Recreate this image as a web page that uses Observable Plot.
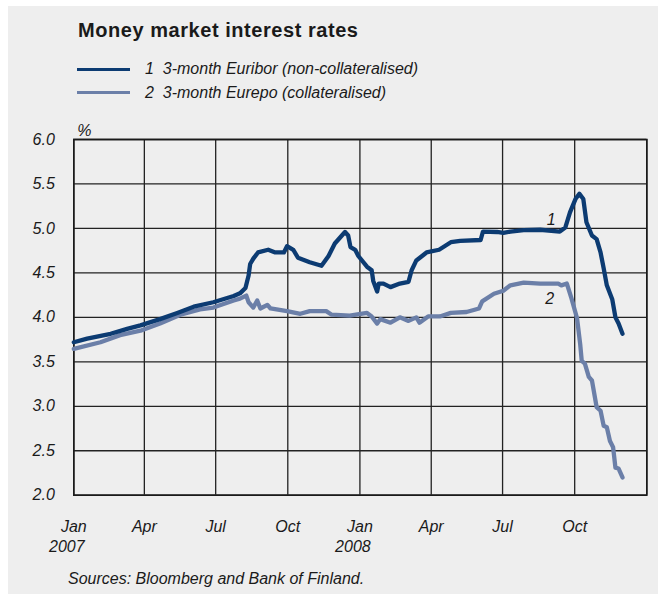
<!DOCTYPE html>
<html>
<head>
<meta charset="utf-8">
<script src="https://cdn.jsdelivr.net/npm/d3@7"></script>
<script src="https://cdn.jsdelivr.net/npm/@observablehq/plot@0.6"></script>
<style>
  html, body { margin: 0; padding: 0; background: #ffffff; }
  body { width: 658px; height: 594px; position: relative; overflow: hidden; font-family: "Liberation Sans", Arial, sans-serif; }
  #panel { position: absolute; left: 8px; top: 6px; width: 650px; height: 588px; background: #eeeeee; }
  .abs { position: absolute; white-space: pre; color: #1a1a1a; }
  #title { left: 78px; top: 20px; font-size: 20px; line-height: 20px; font-weight: bold; letter-spacing: 0.55px; }
  .leg { font-size: 16px; line-height: 16px; font-style: italic; left: 145px; }
  .swatch { position: absolute; left: 77px; width: 53px; height: 3px; }
  #chart { position: absolute; left: 0; top: 110px; }
  #source { left: 68px; top: 571px; font-size: 16px; line-height: 16px; font-style: italic; }
</style>
</head>
<body>
<div id="panel"></div>
<div id="title" class="abs">Money market interest rates</div>
<div class="swatch" style="top:67.5px;background:#0c3b72"></div>
<div class="leg abs" style="top:61px">1  3-month Euribor (non-collateralised)</div>
<div class="swatch" style="top:91px;background:#6b7fa8"></div>
<div class="leg abs" style="top:85px">2  3-month Eurepo (collateralised)</div>
<div id="chart"></div>
<div id="source" class="abs">Sources: Bloomberg and Bank of Finland.</div>
<script>
// Series 1: 3-month Euribor (non-collateralised), %
const euriborDates = ["2007-01-01","2007-01-18","2007-02-17","2007-03-10","2007-03-27","2007-04-21","2007-05-13","2007-06-03","2007-06-28","2007-07-24","2007-08-01","2007-08-08","2007-08-10","2007-08-12","2007-08-14","2007-08-18","2007-08-24","2007-09-06","2007-09-15","2007-09-26","2007-09-30","2007-10-08","2007-10-14","2007-10-29","2007-11-13","2007-11-22","2007-11-30","2007-12-09","2007-12-13","2007-12-17","2007-12-20","2007-12-26","2007-12-30","2008-01-10","2008-01-16","2008-01-18","2008-01-23","2008-01-25","2008-01-31","2008-02-09","2008-02-21","2008-03-03","2008-03-07","2008-03-13","2008-03-26","2008-04-11","2008-04-26","2008-05-08","2008-06-03","2008-06-06","2008-06-24","2008-07-02","2008-07-11","2008-07-28","2008-08-18","2008-09-12","2008-09-19","2008-09-25","2008-10-02","2008-10-07","2008-10-12","2008-10-16","2008-10-23","2008-10-29","2008-11-03","2008-11-07","2008-11-11","2008-11-18","2008-11-22","2008-11-26","2008-12-01"];
const euriborValues = [3.72,3.76,3.815,3.87,3.91,3.98,4.05,4.12,4.17,4.24,4.27,4.33,4.40,4.47,4.60,4.66,4.73,4.76,4.73,4.73,4.80,4.76,4.67,4.62,4.58,4.69,4.83,4.92,4.96,4.92,4.79,4.76,4.69,4.57,4.53,4.41,4.29,4.38,4.38,4.34,4.38,4.40,4.53,4.64,4.73,4.76,4.845,4.86,4.87,4.965,4.96,4.95,4.965,4.98,4.985,4.965,5.01,5.18,5.33,5.39,5.33,5.07,4.92,4.88,4.73,4.55,4.36,4.20,4.00,3.93,3.815];

// Series 2: 3-month Eurepo (collateralised), %
const eurepoDates = ["2007-01-01","2007-02-04","2007-03-01","2007-03-27","2007-04-21","2007-05-17","2007-06-11","2007-06-28","2007-07-24","2007-08-01","2007-08-09","2007-08-12","2007-08-18","2007-08-23","2007-08-27","2007-09-05","2007-09-09","2007-09-30","2007-10-17","2007-10-29","2007-11-19","2007-11-26","2007-12-19","2008-01-10","2008-01-16","2008-01-23","2008-01-27","2008-02-09","2008-02-21","2008-03-03","2008-03-13","2008-03-17","2008-03-28","2008-04-12","2008-04-26","2008-05-16","2008-06-01","2008-06-05","2008-06-20","2008-07-02","2008-07-11","2008-07-28","2008-08-18","2008-09-10","2008-09-14","2008-09-21","2008-09-27","2008-10-04","2008-10-08","2008-10-10","2008-10-14","2008-10-19","2008-10-23","2008-10-29","2008-11-03","2008-11-07","2008-11-11","2008-11-15","2008-11-19","2008-11-22","2008-11-26","2008-12-01"];
const eurepoValues = [3.645,3.72,3.80,3.85,3.93,4.03,4.09,4.11,4.19,4.21,4.245,4.17,4.11,4.19,4.10,4.14,4.10,4.07,4.04,4.07,4.07,4.03,4.02,4.05,4.01,3.93,3.98,3.94,4.00,3.96,4.00,3.94,4.01,4.01,4.05,4.06,4.10,4.18,4.265,4.30,4.36,4.39,4.38,4.38,4.36,4.38,4.21,3.99,3.70,3.51,3.48,3.33,3.29,2.99,2.95,2.78,2.765,2.61,2.54,2.31,2.30,2.20];

// Axis ticks and labels
const yTicks = [2.0, 2.5, 3.0, 3.5, 4.0, 4.5, 5.0, 5.5, 6.0];
const xTickDates = ["2007-01-01","2007-04-01","2007-07-01","2007-10-01","2008-01-01","2008-04-01","2008-07-01","2008-10-01","2009-01-01"];
const xTickLabels = ["Jan","Apr","Jul","Oct","Jan","Apr","Jul","Oct",""];
const yearDates = ["2007-01-01","2008-01-01"];
const yearLabels = ["2007","2008"];
const seriesLabels = [{date: "2008-09-01", value: 5.10, text: "1"}, {date: "2008-08-30", value: 4.21, text: "2"}];

const parse = d3.utcParse("%Y-%m-%d");
const euribor = euriborDates.map((d, i) => ({date: parse(d), value: euriborValues[i]}));
const eurepo = eurepoDates.map((d, i) => ({date: parse(d), value: eurepoValues[i]}));
const xTicks = xTickDates.map(parse);
const labelFor = new Map(xTicks.map((d, i) => [+d, xTickLabels[i]]));
const years = yearDates.map(parse);
const yearFor = new Map(years.map((d, i) => [+d, yearLabels[i]]));
const tags = seriesLabels.map(d => ({...d, date: parse(d.date)}));

const font = {fontSize: 16, fontStyle: "italic", fill: "#1a1a1a"};

const chart = Plot.plot({
  width: 658,
  height: 450,
  marginLeft: 73.3,
  marginRight: 11.7,
  marginTop: 29,
  marginBottom: 65.3,
  style: {background: "transparent", fontFamily: "'Liberation Sans', Arial, sans-serif", overflow: "visible"},
  x: {type: "utc", domain: [parse("2007-01-01"), parse("2009-01-01")]},
  y: {domain: [2, 6]},
  marks: [
    Plot.gridX(xTicks, {stroke: "#222", strokeOpacity: 1, strokeWidth: 1.3}),
    Plot.gridY(yTicks, {stroke: "#222", strokeOpacity: 1, strokeWidth: 1.3}),
    Plot.frame({stroke: "#1a1a1a", strokeWidth: 1.6}),
    Plot.axisY(yTicks, {tickSize: 0, tickPadding: 19, tickFormat: d3.format(".1f"), label: null, ...font}),
    Plot.axisX(xTicks, {tickSize: 0, tickPadding: 25, tickFormat: d => labelFor.get(+d), label: null, ...font}),
    Plot.axisX(years, {tickSize: 0, tickPadding: 45, tickFormat: d => yearFor.get(+d), label: null, dx: -7, ...font}),
    Plot.text(["%"], {frameAnchor: "top-left", dx: 3.5, dy: -15, textAnchor: "start", ...font}),
    Plot.line(eurepo, {x: "date", y: "value", stroke: "#6b7fa8", strokeWidth: 4.3, strokeLinejoin: "round", strokeLinecap: "round"}),
    Plot.line(euribor, {x: "date", y: "value", stroke: "#0c3b72", strokeWidth: 4.3, strokeLinejoin: "round", strokeLinecap: "round"}),
    Plot.text(tags, {x: "date", y: "value", text: "text", ...font})
  ]
});
document.getElementById("chart").appendChild(chart);
</script>
</body>
</html>
